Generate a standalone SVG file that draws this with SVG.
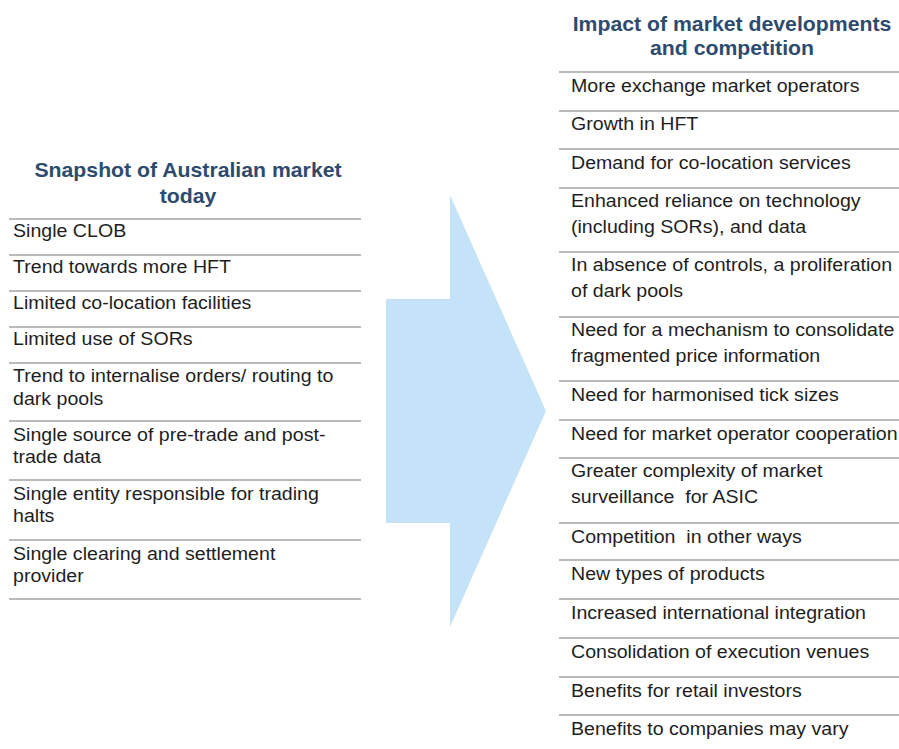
<svg xmlns="http://www.w3.org/2000/svg" width="899" height="749" viewBox="0 0 899 749">
  <style>
    .title { font-family: "Liberation Sans", Arial, sans-serif; font-weight: bold; font-size: 19.5px; fill: #2e4b6e; text-anchor: middle; }
    .item { font-family: "Liberation Sans", Arial, sans-serif; font-size: 17.5px; fill: #1e1e1e; white-space: pre; }
    .rule { stroke: #a3a3a3; stroke-width: 1.6; fill: none; }
    .arrow { fill: #c5e3f8; }
  </style>
  <rect width="899" height="749" fill="#ffffff"/>

  <!-- big block arrow between the two lists -->
  <g id="connectors">
    <polygon class="arrow" points="386,299 450,299 450,195 546,411 450,627 450,523 386,523"/>
  </g>

  <!-- left list: current market -->
  <g id="left-panel">
    <g id="left-title">
      <text class="title" transform="translate(188 177) scale(1.09 1)">Snapshot of  Australian  market</text>
      <text class="title" transform="translate(188 203) scale(1.09 1)">today</text>
    </g>
    <g id="left-rules">
      <line class="rule" x1="9" y1="219" x2="361" y2="219"/>
      <line class="rule" x1="9" y1="255" x2="361" y2="255"/>
      <line class="rule" x1="9" y1="291" x2="361" y2="291"/>
      <line class="rule" x1="9" y1="327" x2="361" y2="327"/>
      <line class="rule" x1="9" y1="363" x2="361" y2="363"/>
      <line class="rule" x1="9" y1="421" x2="361" y2="421"/>
      <line class="rule" x1="9" y1="480" x2="361" y2="480"/>
      <line class="rule" x1="9" y1="540" x2="361" y2="540"/>
      <line class="rule" x1="9" y1="599" x2="361" y2="599"/>
    </g>
    <g transform="translate(13 0) scale(1.12 1)">
      <g id="l-clob"><text class="item" y="237.3">Single CLOB</text></g>
      <g id="l-hft"><text class="item" y="273.3">Trend towards more HFT</text></g>
      <g id="l-coloc"><text class="item" y="309.3">Limited co-location facilities</text></g>
      <g id="l-sor"><text class="item" y="345.3">Limited use of SORs</text></g>
      <g id="l-dark"><text class="item" y="382.5">Trend to internalise orders/ routing to</text><text class="item" y="405">dark pools</text></g>
      <g id="l-data"><text class="item" y="441">Single source of pre-trade and post-</text><text class="item" y="463.5">trade data</text></g>
      <g id="l-halts"><text class="item" y="500">Single entity responsible for trading</text><text class="item" y="522.5">halts</text></g>
      <g id="l-clearing"><text class="item" y="560">Single clearing and settlement</text><text class="item" y="582.5">provider</text></g>
    </g>
  </g>

  <!-- right list: impacts -->
  <g id="right-panel">
    <g id="right-title">
      <text class="title" transform="translate(732 30.5) scale(1.09 1)">Impact of  market  developments</text>
      <text class="title" transform="translate(732 55) scale(1.09 1)">and competition</text>
    </g>
    <g id="right-rules">
      <line class="rule" x1="559" y1="72" x2="899" y2="72"/>
      <line class="rule" x1="559" y1="111" x2="899" y2="111"/>
      <line class="rule" x1="559" y1="149" x2="899" y2="149"/>
      <line class="rule" x1="559" y1="188" x2="899" y2="188"/>
      <line class="rule" x1="559" y1="252" x2="899" y2="252"/>
      <line class="rule" x1="559" y1="317" x2="899" y2="317"/>
      <line class="rule" x1="559" y1="381" x2="899" y2="381"/>
      <line class="rule" x1="559" y1="420" x2="899" y2="420"/>
      <line class="rule" x1="559" y1="458" x2="899" y2="458"/>
      <line class="rule" x1="559" y1="523" x2="899" y2="523"/>
      <line class="rule" x1="559" y1="560" x2="899" y2="560"/>
      <line class="rule" x1="559" y1="599" x2="899" y2="599"/>
      <line class="rule" x1="559" y1="638" x2="899" y2="638"/>
      <line class="rule" x1="559" y1="677" x2="899" y2="677"/>
      <line class="rule" x1="559" y1="715" x2="899" y2="715"/>
    </g>
    <g transform="translate(571 0) scale(1.12 1)">
      <g id="r-operators"><text class="item" y="92">More exchange market operators</text></g>
      <g id="r-hft"><text class="item" y="130.5">Growth in HFT</text></g>
      <g id="r-coloc"><text class="item" y="169">Demand for co-location services</text></g>
      <g id="r-tech"><text class="item" y="207.5">Enhanced reliance on technology</text><text class="item" y="233.5">(including SORs), and data</text></g>
      <g id="r-dark"><text class="item" y="271.5">In absence of controls, a proliferation</text><text class="item" y="297.5">of dark pools</text></g>
      <g id="r-consolidate"><text class="item" y="336.5">Need for a mechanism to consolidate</text><text class="item" y="362.5">fragmented price information</text></g>
      <g id="r-tick"><text class="item" y="401">Need for harmonised tick sizes</text></g>
      <g id="r-coop"><text class="item" y="440">Need for market operator cooperation</text></g>
      <g id="r-surveillance"><text class="item" y="477.5">Greater complexity of market</text><text class="item" y="503.5">surveillance  for ASIC</text></g>
      <g id="r-competition"><text class="item" y="543">Competition  in other ways</text></g>
      <g id="r-products"><text class="item" y="580.5">New types of products</text></g>
      <g id="r-international"><text class="item" y="619">Increased international integration</text></g>
      <g id="r-venues"><text class="item" y="658">Consolidation of execution venues</text></g>
      <g id="r-retail"><text class="item" y="697">Benefits for retail investors</text></g>
      <g id="r-companies"><text class="item" y="735">Benefits to companies may vary</text></g>
    </g>
  </g>
</svg>
